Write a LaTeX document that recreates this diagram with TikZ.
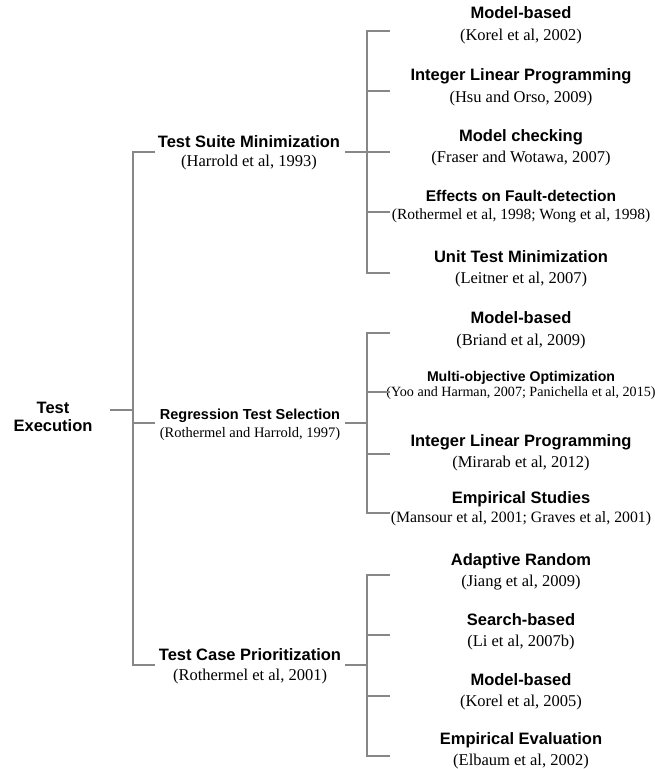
\documentclass[tikz,border=0pt]{standalone}
\usepackage{fontspec}
\setmainfont{Liberation Serif}
\setsansfont{Liberation Sans}
\definecolor{treegray}{RGB}{135,135,135}

\begin{document}
\begin{tikzpicture}[x=1pt,y=-1pt,
    tree/.style={draw=treegray, line width=2.8pt},
    leaf/.style={align=center, inner sep=0pt, font=\fontsize{16.5}{21.5}\selectfont}]
    \def\heading#1{{\sffamily\bfseries #1}}
    \def\leafnode#1#2#3#4#5#6{
    \node[leaf,#1] (#2) at (521,#4) {\heading{#5}\\#6};
    \coordinate (#2-in) at (390,#3);
    }

    \useasboundingbox (0,0) rectangle (655,769);
    \coordinate (spine1) at (133,0);
    \coordinate (spine2) at (367,0);

    % root and first level
    \node[leaf, font=\fontsize{16.5}{18}\selectfont\sffamily\bfseries] (root) at (53,417) {Test\\Execution};
    \coordinate (root-out) at (110,410);

    \node[leaf, font=\fontsize{16.5}{19}\selectfont] (tsm) at (249,152.5) {\heading{Test Suite Minimization}\\(Harrold et al, 1993)};
    \coordinate (tsm-in) at (155,152);
    \coordinate (tsm-out) at (345,152);
    \node[leaf, font=\fontsize{14.5}{18}\selectfont] (rts) at (250,425) {\heading{Regression Test Selection}\\(Rothermel and Harrold, 1997)};
    \coordinate (rts-in) at (155,423);
    \coordinate (rts-out) at (345,423);
    \node[leaf, font=\fontsize{16.5}{20}\selectfont] (tcp) at (250,666) {\heading{Test Case Prioritization}\\(Rothermel et al, 2001)};
    \coordinate (tcp-in) at (155,665);
    \coordinate (tcp-out) at (345,665);

    \draw[tree] (root-out) -- (root-out -| spine1);
    \draw[tree] (tsm-in) -- (tsm-in -| spine1) -- (tcp-in -| spine1) -- (tcp-in);
    \draw[tree] (rts-in) -- (rts-in -| spine1);

    % test suite minimization
    \leafnode{}{tsm1}{31}{25.5}{Model-based}{(Korel et al, 2002)};
    \leafnode{}{tsm2}{91}{87.5}{Integer Linear Programming}{(Hsu and Orso, 2009)};
    \leafnode{}{tsm3}{152}{148}{Model checking}{(Fraser and Wotawa, 2007)};
    \leafnode{font=\fontsize{15.5}{18}\selectfont}{tsm4}{212}{207}{Effects on Fault-detection}{(Rothermel et al, 1998; Wong et al, 1998)};
    \leafnode{}{tsm5}{273}{269}{Unit Test Minimization}{(Leitner et al, 2007)};

    \draw[tree] (tsm-out) -- (tsm-out -| spine2);
    \draw[tree] (tsm1-in) -- (tsm1-in -| spine2) -- (tsm5-in -| spine2) -- (tsm5-in);
    \foreach \n in {tsm2,tsm3,tsm4}
        \draw[tree] (\n-in) -- (\n-in -| spine2);

    % regression test selection
    \leafnode{}{rts1}{333}{330.5}{Model-based}{(Briand et al, 2009)};
    \leafnode{font=\fontsize{14.1}{15.5}\selectfont}{rts2}{392}{385.5}{Multi-objective Optimization}{(Yoo and Harman, 2007; Panichella et al, 2015)};
    \leafnode{}{rts3}{454}{453}{Integer Linear Programming}{(Mirarab et al, 2012)};
    \leafnode{font=\fontsize{16.5}{19}\selectfont}{rts4}{513}{508.5}{Empirical Studies}{{\fontsize{15.8}{19}\selectfont(Mansour et al, 2001; Graves et al, 2001)}};

    \draw[tree] (rts-out) -- (rts-out -| spine2);
    \draw[tree] (rts1-in) -- (rts1-in -| spine2) -- (rts4-in -| spine2) -- (rts4-in);
    \foreach \n in {rts2,rts3}
        \draw[tree] (\n-in) -- (\n-in -| spine2);

    % test case prioritization
    \leafnode{}{tcp1}{575}{572}{Adaptive Random}{(Jiang et al, 2009)};
    \leafnode{}{tcp2}{635}{632}{Search-based}{(Li et al, 2007b)};
    \leafnode{}{tcp3}{696}{692}{Model-based}{(Korel et al, 2005)};
    \leafnode{}{tcp4}{756}{751}{Empirical Evaluation}{(Elbaum et al, 2002)};

    \draw[tree] (tcp-out) -- (tcp-out -| spine2);
    \draw[tree] (tcp1-in) -- (tcp1-in -| spine2) -- (tcp4-in -| spine2) -- (tcp4-in);
    \foreach \n in {tcp2,tcp3}
        \draw[tree] (\n-in) -- (\n-in -| spine2);
\end{tikzpicture}
\end{document}
